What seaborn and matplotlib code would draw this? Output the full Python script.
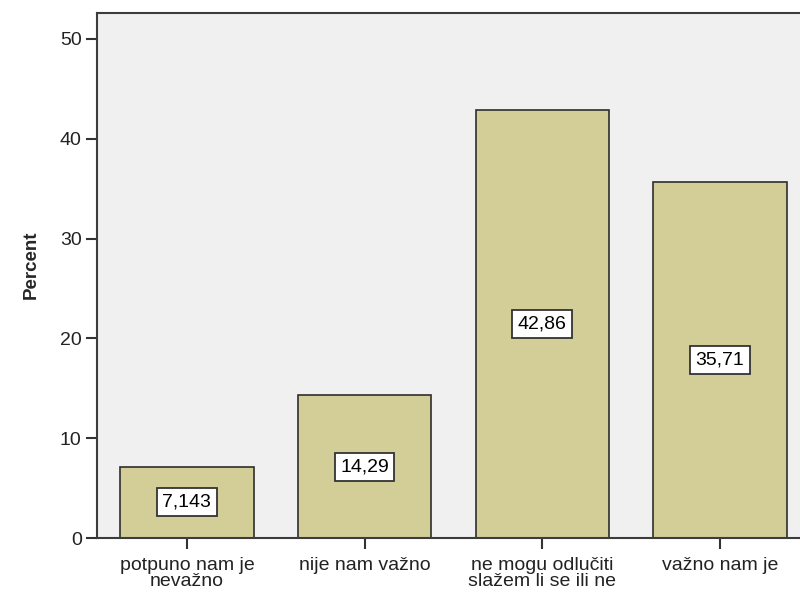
import matplotlib
matplotlib.use("Agg")
import matplotlib.pyplot as plt
import seaborn as sns
import pandas as pd

# answer categories and their percentages
categories = ["potpuno nam je\nnevažno", "nije nam važno",
              "ne mogu odlučiti\nslažem li se ili ne", "važno nam je"]
percent = [7.143, 14.29, 42.86, 35.71]
value_labels = ["7,143", "14,29", "42,86", "35,71"]
y_ticks = [0, 10, 20, 30, 40, 50]

df = pd.DataFrame({"cat": categories, "pct": percent})

sns.set_style("white")
plt.rcParams["font.family"] = ["Liberation Sans", "DejaVu Sans"]

fig = plt.figure(figsize=(8, 5.99), dpi=100)
ax = fig.add_axes([0.12125, 0.1018, 0.891, 0.8765])
ax.set_facecolor("#F0F0F0")

sns.barplot(data=df, x="cat", y="pct", ax=ax, color="#D3CE97", saturation=1,
            width=0.75, edgecolor="#2E2E2E", linewidth=1.2)

# value boxes in the middle of each bar
for i, (v, lab) in enumerate(zip(percent, value_labels)):
    ax.text(i, v / 2, lab, ha="center", va="center", fontsize=14, color="black",
            bbox=dict(boxstyle="square,pad=0.28", facecolor="white",
                      edgecolor="#333333", linewidth=1.3))

ax.set_xlim(-0.506, 3.506)
ax.set_ylim(0, 52.6)
ax.set_yticks(y_ticks)
ax.set_yticklabels([str(t) for t in y_ticks], fontsize=14, color="#222222")
ax.set_xticks(range(len(categories)))
ax.set_xticklabels(categories, fontsize=14, color="#222222", linespacing=0.88)
ax.tick_params(axis="both", direction="out", length=8, width=1.5, color="#333333",
               left=True, bottom=True, pad=3)
ax.tick_params(axis="x", pad=6)
ax.set_xlabel("")
ax.set_ylabel("Percent", fontsize=13.5, fontweight="bold")
ax.yaxis.set_label_coords(-0.081, 0.52)

for side in ["left", "bottom", "top", "right"]:
    ax.spines[side].set_visible(True)
    ax.spines[side].set_color("#3C3C3C")
    ax.spines[side].set_linewidth(1.5)

fig.savefig("out.png", dpi=100)
